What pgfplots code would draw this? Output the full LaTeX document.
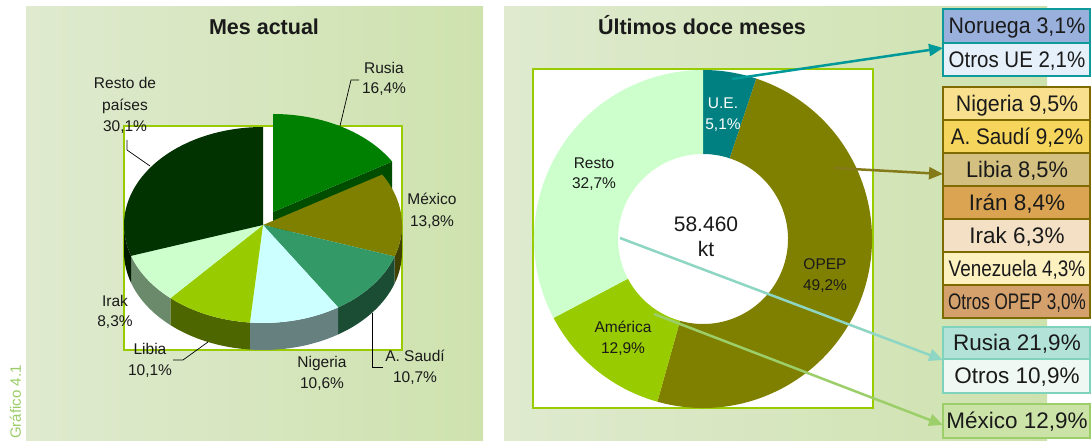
\documentclass[border=0pt]{standalone}
\usepackage{fontspec}
\setmainfont{Liberation Sans}
\usepackage{graphicx}
\usepackage{pgfplots}
\pgfplotsset{compat=1.18}
\usetikzlibrary{arrows.meta}

\definecolor{bgL}{HTML}{DFEACF}
\definecolor{bgR}{HTML}{CEE2AE}
\definecolor{frameG}{HTML}{99CC00}
\definecolor{grafG}{HTML}{99CC66}
% pie tops
\definecolor{cR}{HTML}{008000}
\definecolor{cM}{HTML}{808000}
\definecolor{cS}{HTML}{339966}
\definecolor{cN}{HTML}{CCFFFF}
\definecolor{cL}{HTML}{99CC00}
\definecolor{cI}{HTML}{CCFFCC}
\definecolor{cO}{HTML}{003300}
% pie sides
\definecolor{sR}{HTML}{004D00}
\definecolor{sM}{HTML}{404000}
\definecolor{sS}{HTML}{1A4D33}
\definecolor{sN}{HTML}{668080}
\definecolor{sL}{HTML}{4D6600}
\definecolor{sI}{HTML}{6B8A6B}
\definecolor{sO}{HTML}{001A00}
% donut
\definecolor{dUE}{HTML}{008080}
\definecolor{dOP}{HTML}{808000}
\definecolor{dAM}{HTML}{99CC00}
\definecolor{dRE}{HTML}{CCFFCC}
% boxes
\definecolor{bTeal}{HTML}{0E9A9A}
\definecolor{bOlive}{HTML}{7F6A00}
\definecolor{bMint}{HTML}{7FD3BC}
\definecolor{bLG}{HTML}{9CCF6A}
\definecolor{fNor}{HTML}{9AB0DC}
\definecolor{fOUE}{HTML}{E6F0FA}
\definecolor{fNig}{HTML}{F8E08E}
\definecolor{fSau}{HTML}{F6D55C}
\definecolor{fLib}{HTML}{D3BF7F}
\definecolor{fIra}{HTML}{DBA453}
\definecolor{fIrk}{HTML}{F3E0C5}
\definecolor{fVen}{HTML}{FDF1C0}
\definecolor{fOOP}{HTML}{D4A06C}
\definecolor{fRus}{HTML}{B3E3D8}
\definecolor{fOtr}{HTML}{F0F8F3}
\definecolor{fMex}{HTML}{CCE3A8}
\definecolor{arTeal}{HTML}{009999}
\definecolor{arOlive}{HTML}{857A1A}
\definecolor{arMint}{HTML}{8ED6C4}
\definecolor{arLG}{HTML}{9CCF6A}
\definecolor{txt}{HTML}{1A1A1A}

\newcommand\lblfont{\fontsize{15.5}{19}\selectfont}
\newcommand\boxfont{\fontsize{22.5}{27}\selectfont}

% top face of a 3D pie slice: start %, value %, colour, dx, dy
\newcommand\pietop[5]{%
 \fill[#3] (axis cs:{263+#4},{216+#5}) -- (axis cs:{263+#4+139*sin(3.6*(#1))},{216+#5+98*cos(3.6*(#1))}) arc[start angle={90-3.6*(#1)}, end angle={90-3.6*(#1+#2)}, x radius=139pt, y radius=98pt] -- cycle;}
% side face: from %, to %, colour
\newcommand\pieside[3]{%
 \fill[#3] (axis cs:{263+139*sin(3.6*(#1))},{216+98*cos(3.6*(#1))}) arc[start angle={90-3.6*(#1)}, end angle={90-3.6*(#2)}, x radius=139pt, y radius=98pt] -- ++(0pt,-27pt) arc[start angle={90-3.6*(#2)}, end angle={90-3.6*(#1)}, x radius=139pt, y radius=98pt] -- cycle;}
% donut slice: start %, value %, colour (total 99.9)
\newcommand\donut[3]{%
 \fill[#3] (axis cs:{703+169*sin(3.6036*(#1))},{202+169*cos(3.6036*(#1))}) arc[start angle={90-3.6036*(#1)}, end angle={90-3.6036*(#1+#2)}, radius=169pt] -- (axis cs:{703+85*sin(3.6036*(#1+#2))},{202+85*cos(3.6036*(#1+#2))}) arc[start angle={90-3.6036*(#1+#2)}, end angle={90-3.6036*(#1)}, radius=85pt] -- cycle;}
\newcommand\lbl[4][txt]{\node[text=#1,font=\lblfont,text height=11pt,text depth=0pt,inner sep=0pt] at (axis cs:#2,{441-#3}) {#4};}
\newcommand\boxrow[5]{%
 \fill[#3] (axis cs:943,{441-#2}) rectangle (axis cs:1090,{441-#1});
 \node[font=\boxfont,text height=16pt,text depth=0pt,inner sep=0pt,text=txt] at (axis cs:1017,{441-(#1+#2)/2}) {\scalebox{#4}[1]{#5}};}

\begin{document}
\begin{tikzpicture}
\useasboundingbox (0pt,0pt) rectangle (1092pt,441pt);
\begin{axis}[hide axis, scale only axis, width=1092pt, height=441pt,
  xmin=0, xmax=1092, ymin=0, ymax=441, clip=false, at={(0pt,0pt)}, anchor=south west]
% backgrounds
\shade[left color=bgL, right color=bgR] (axis cs:26,0) rectangle (axis cs:483,434);
\shade[left color=bgL, right color=bgR] (axis cs:504,0) rectangle (axis cs:1047,434);
\node[rotate=90, anchor=base west, text=grafG, font=\fontsize{15}{18}\selectfont, inner sep=0pt] at (axis cs:21,2) {Gráfico 4.1};
% titles
\node[font=\bfseries\fontsize{21.5}{26}\selectfont, text height=15.5pt, text depth=0pt, inner sep=0pt, text=txt] at (axis cs:264,414) {Mes actual};
\node[font=\bfseries\fontsize{21.5}{26}\selectfont, text height=15.5pt, text depth=0pt, inner sep=0pt, text=txt] at (axis cs:702,414) {Últimos doce meses};
% frames
\draw[frameG, line width=2.5pt, fill=white] (axis cs:124,91) rectangle (axis cs:402,315);
\draw[frameG, line width=2.5pt, fill=white] (axis cs:533,33) rectangle (axis cs:873,372);

% ---- left: 3D pie (Mes actual) ----
% Rusia 16.4 (exploded)
\fill[sR] (axis cs:273,229) -- (axis cs:{273+139*sin(59.04)},{229+98*cos(59.04)}) -- ++(0pt,-27pt) -- (axis cs:273,202) -- cycle;
\pietop{0}{16.4}{cR}{10}{13}
% sides
\pieside{25}{30.2}{sM}
\pieside{30.2}{40.9}{sS}
\pieside{40.9}{51.5}{sN}
\pieside{51.5}{61.6}{sL}
\pieside{61.6}{69.9}{sI}
\pieside{69.9}{75}{sO}
% tops: Mexico 13.8, A. Saudi 10.7, Nigeria 10.6, Libia 10.1, Irak 8.3, Resto 30.1
\pietop{16.4}{13.8}{cM}{0}{0}
\pietop{30.2}{10.7}{cS}{0}{0}
\pietop{40.9}{10.6}{cN}{0}{0}
\pietop{51.5}{10.1}{cL}{0}{0}
\pietop{61.6}{8.3}{cI}{0}{0}
\pietop{69.9}{30.1}{cO}{0}{0}
% leader lines
\draw[black, line width=0.7pt] (axis cs:340,315) -- (axis cs:351,361) -- (axis cs:359,361);
\draw[black, line width=0.7pt] (axis cs:150,275) -- (axis cs:127,291) -- (axis cs:127,301);
\draw[black, line width=0.7pt] (axis cs:372,128) -- (axis cs:372,74) -- (axis cs:383,74);
\draw[black, line width=0.7pt] (axis cs:208,99) -- (axis cs:183,81) -- (axis cs:173,81);
% labels
\lbl{384}{68}{Rusia}\lbl{384}{88}{16,4\%}
\lbl{125}{83}{Resto de}\lbl{125}{105}{países}\lbl{125}{126}{30,1\%}
\lbl{432}{199}{México}\lbl{432}{221}{13,8\%}
\lbl{415}{356}{A. Saudí}\lbl{415}{377}{10,7\%}
\lbl{322}{362}{Nigeria}\lbl{322}{383}{10,6\%}
\lbl{150}{349}{Libia}\lbl{150}{370}{10,1\%}
\lbl{115}{301}{Irak}\lbl{115}{321}{8,3\%}

% ---- right: donut (Ultimos doce meses) ----
% U.E. 5.1, OPEP 49.2, America 12.9, Resto 32.7
\donut{0}{5.1}{dUE}
\donut{5.1}{49.2}{dOP}
\donut{54.3}{12.9}{dAM}
\donut{67.2}{32.7}{dRE}
\lbl[white]{723}{103}{U.E.}\lbl[white]{723}{124}{5,1\%}
\lbl{594}{163}{Resto}\lbl{594}{183}{32,7\%}
\lbl{825}{264}{OPEP}\lbl{825}{285}{49,2\%}
\lbl{623}{327}{América}\lbl{623}{348}{12,9\%}
\node[font=\fontsize{21}{25}\selectfont, text height=15pt, text depth=0pt, inner sep=0pt, text=txt] at (axis cs:706,217) {58.460};
\node[font=\fontsize{21}{25}\selectfont, text height=15pt, text depth=0pt, inner sep=0pt, text=txt] at (axis cs:706,192) {kt};
% arrows
\draw[arTeal, line width=2.5pt, -{Triangle[length=14pt,width=12pt]}] (axis cs:732,362) -- (axis cs:943,393);
\draw[arOlive, line width=2.5pt, -{Triangle[length=14pt,width=12pt]}] (axis cs:834,273) -- (axis cs:943,267);
\draw[arMint, line width=2.5pt, -{Triangle[length=14pt,width=12pt]}] (axis cs:620,203) -- (axis cs:943,81);
\draw[arLG, line width=2.5pt, -{Triangle[length=14pt,width=12pt]}] (axis cs:654,127) -- (axis cs:943,16);

% ---- boxes ----
\boxrow{9}{43}{fNor}{0.95}{Noruega 3,1\%}
\boxrow{43}{76}{fOUE}{0.91}{Otros UE 2,1\%}
\draw[bTeal, line width=2pt] (axis cs:943,398) -- (axis cs:1090,398);
\draw[bTeal, line width=2.5pt] (axis cs:943,365) rectangle (axis cs:1090,432);

\boxrow{87}{120}{fNig}{0.95}{Nigeria 9,5\%}
\boxrow{120}{153}{fSau}{0.92}{A. Saudí 9,2\%}
\boxrow{153}{186}{fLib}{0.97}{Libia 8,5\%}
\boxrow{186}{219}{fIra}{1.0}{Irán 8,4\%}
\boxrow{219}{252}{fIrk}{1.0}{Irak 6,3\%}
\boxrow{252}{285}{fVen}{0.84}{Venezuela 4,3\%}
\boxrow{285}{318}{fOOP}{0.76}{Otros OPEP 3,0\%}
\draw[bOlive, line width=2pt] (axis cs:943,321) -- (axis cs:1090,321);
\draw[bOlive, line width=2pt] (axis cs:943,288) -- (axis cs:1090,288);
\draw[bOlive, line width=2pt] (axis cs:943,255) -- (axis cs:1090,255);
\draw[bOlive, line width=2pt] (axis cs:943,222) -- (axis cs:1090,222);
\draw[bOlive, line width=2pt] (axis cs:943,189) -- (axis cs:1090,189);
\draw[bOlive, line width=2pt] (axis cs:943,156) -- (axis cs:1090,156);
\draw[bOlive, line width=2.5pt] (axis cs:943,123) rectangle (axis cs:1090,354);

\boxrow{327}{359}{fRus}{1.0}{Rusia 21,9\%}
\boxrow{359}{393}{fOtr}{1.0}{Otros 10,9\%}
\draw[bMint, line width=2pt] (axis cs:943,82) -- (axis cs:1090,82);
\draw[bMint, line width=2.5pt] (axis cs:943,48) rectangle (axis cs:1090,114);

\boxrow{404}{438}{fMex}{1.0}{México 12,9\%}
\draw[bLG, line width=2.5pt] (axis cs:943,3) rectangle (axis cs:1090,37);
\end{axis}
\end{tikzpicture}
\end{document}
